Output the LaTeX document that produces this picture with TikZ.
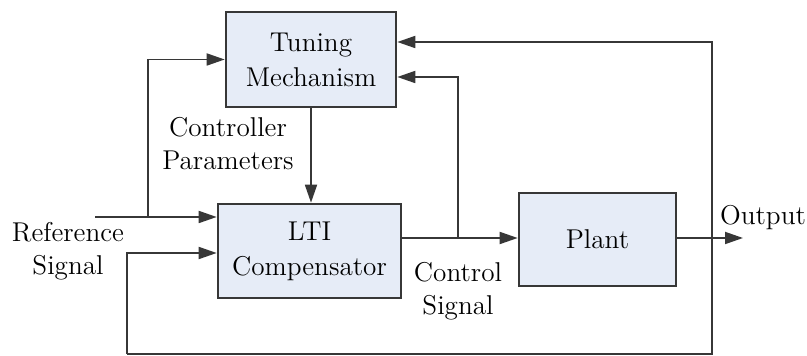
\documentclass[tikz,border=0pt]{standalone}
\usetikzlibrary{positioning,arrows.meta}
\definecolor{boxfill}{RGB}{230,236,247}
\definecolor{wire}{RGB}{55,55,55}
\tikzset{
  >={Triangle[length=9pt,width=6pt]},
  block/.style ={draw=wire, line width=1.3pt, fill=boxfill, align=center,
                 font=\fontsize{13.6}{17.5}\selectfont},
  wireline/.style ={draw=wire, line width=0.9pt},
  sig/.style   ={wireline, ->},
  lbl/.style   ={align=center, font=\fontsize{13.6}{16.5}\selectfont},
}

\begin{document}
\begin{tikzpicture}[x=0.5pt, y=-0.5pt, line cap=butt, line join=miter]
  \useasboundingbox (0,0) rectangle (807,356);

  %--- Blocks ---
  \node[block, minimum width=85pt, minimum height=47.5pt] (tune) at (311,59.5) {Tuning\\Mechanism};
  \node[block, minimum width=91.5pt, minimum height=47pt] (lti) at (309.5,251) {LTI\\Compensator};
  \node[block, minimum width=78.5pt, minimum height=46.5pt] (plant) at (597.5,239.5) {Plant};

  %--- Branch points and free ends ---
  \coordinate (ref) at (95,217);
  \coordinate (rb) at (148,217);
  \coordinate (cb) at (458,238);
  \coordinate (out) at (743,238);
  \coordinate (fbL) at (127,354);
  \coordinate (fbR) at (712,354);

  %--- Signals ---
  \draw[sig] (ref) -- (ref -| lti.west);
  \draw[sig] (rb) |- (tune.west);
  \draw[sig] (tune.south) -- (tune.south |- lti.north);
  \draw[sig] (lti.east |- cb) -- (cb -| plant.west);
  \draw[sig] (cb) |- ([yshift=-8.75pt]tune.east);
  \draw[sig] (plant.east |- out) -- (out);

  % feedback of the output
  \draw[sig] (fbL) -- (fbR) |- ([yshift=8.75pt]tune.east);
  \draw[sig] (fbL) |- ([yshift=-1pt]lti.west);

  %--- Labels ---
  \node[lbl] (cpar) at (228,144) {Controller\\Parameters};
  \node[lbl] (rsig) at (68,251) {Reference\\Signal};
  \node[lbl] (csig) at (458,291) {Control\\Signal};
  \node[lbl] (outl) at (763,218) {Output};
\end{tikzpicture}
\end{document}
